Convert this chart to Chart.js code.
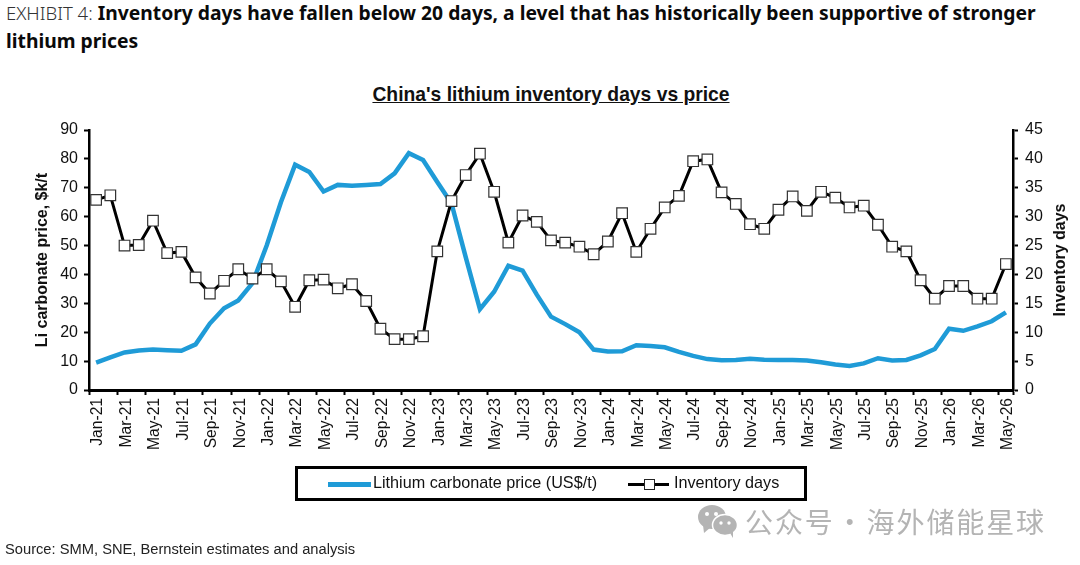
<!DOCTYPE html>
<html>
<head>
<meta charset="utf-8">
<script src="https://cdn.jsdelivr.net/npm/chart.js@4"></script>
<style>
  html, body { margin: 0; padding: 0; background: #fff; }
  body { position: relative; width: 1080px; height: 565px; overflow: hidden; font-family: "Liberation Sans", Arial, sans-serif; color: #111; }
  #chart { position: absolute; left: 0; top: 0; }
  .heading { position: absolute; left: 6px; top: -1px; width: 1060px; font-family: "Noto Sans", sans-serif; font-size: 19.3px; line-height: 28px; font-weight: 700; color: #0a0a0a; }
  .heading span { font-weight: 300; color: #333; font-size: 18.5px; }
  .chart-title { position: absolute; left: 0; width: 1102px; top: 84px; text-align: center; font-size: 19.3px; font-weight: 700; text-decoration: underline; color: #111; }
  #legend { position: absolute; left: 295px; top: 466px; width: 506px; height: 29px; border: 3px solid #000; font-size: 16.2px; box-sizing: content-box; }
  .key { position: absolute; top: 14px; height: 3px; }
  .key i { position: absolute; left: 16px; top: -4px; width: 9px; height: 9px; background: #fff; border: 1px solid #222; }
  .legend-text { position: absolute; top: 4px; white-space: nowrap; }
  .source { position: absolute; left: 5px; top: 541px; font-size: 14.7px; color: #222; }
  .watermark { position: absolute; left: 697px; top: 501px; display: flex; align-items: center; font-family: "Noto Sans CJK SC", sans-serif; font-size: 28px; color: #b4b4b4; white-space: nowrap; letter-spacing: 1.9px; }
</style>
</head>
<body>
<div class="heading"><span>EXHIBIT 4:</span> Inventory days have fallen below 20 days, a level that has historically been supportive of stronger lithium prices</div>
<div class="chart-title">China's lithium inventory days vs price</div>
<canvas id="chart" width="1080" height="565"></canvas>
<div id="legend"></div>
<div class="watermark">
  <svg width="42" height="34" viewBox="0 0 42 34" style="margin-right:6px">
    <ellipse cx="15" cy="13" rx="14" ry="12" fill="#b4b4b4"/>
    <path d="M6 21 L7 29 L14 23 Z" fill="#b4b4b4"/>
    <ellipse cx="28" cy="21" rx="12.5" ry="10.5" fill="#b4b4b4" stroke="#fff" stroke-width="1.5"/>
    <path d="M33 29 L36 34 L36 26 Z" fill="#b4b4b4"/>
    <circle cx="10" cy="10" r="2" fill="#fff"/><circle cx="19" cy="10" r="2" fill="#fff"/>
    <circle cx="24" cy="19" r="1.7" fill="#fff"/><circle cx="32" cy="19" r="1.7" fill="#fff"/>
  </svg>
  公众号<span style="margin:0 1px"> · </span>海外储能星球
</div>
<div class="source">Source: SMM, SNE, Bernstein estimates and analysis</div>

<script>
// Monthly categories, Jan-21 to May-26
const months = [
  'Jan-21','Feb-21','Mar-21','Apr-21','May-21','Jun-21','Jul-21','Aug-21','Sep-21','Oct-21','Nov-21','Dec-21',
  'Jan-22','Feb-22','Mar-22','Apr-22','May-22','Jun-22','Jul-22','Aug-22','Sep-22','Oct-22','Nov-22','Dec-22',
  'Jan-23','Feb-23','Mar-23','Apr-23','May-23','Jun-23','Jul-23','Aug-23','Sep-23','Oct-23','Nov-23','Dec-23',
  'Jan-24','Feb-24','Mar-24','Apr-24','May-24','Jun-24','Jul-24','Aug-24','Sep-24','Oct-24','Nov-24','Dec-24',
  'Jan-25','Feb-25','Mar-25','Apr-25','May-25','Jun-25','Jul-25','Aug-25','Sep-25','Oct-25','Nov-25','Dec-25',
  'Jan-26','Feb-26','Mar-26','Apr-26','May-26'
];

const priceValues = [
  9.5, 11.3, 13, 13.7, 14, 13.8, 13.6, 15.8, 23, 28.3, 31, 37,
  50, 65, 78, 75.5, 68.7, 71, 70.7, 71, 71.3, 75, 82, 79.6,
  72, 64.6, 46, 28, 34, 43, 41.3, 33, 25.4, 22.8, 20, 14,
  13.3, 13.4, 15.5, 15.2, 14.8, 13.2, 11.8, 10.7, 10.3, 10.4, 10.8, 10.5,
  10.4, 10.4, 10.2, 9.6, 8.8, 8.3, 9.2, 11, 10.2, 10.4, 12, 14.2,
  21.2, 20.5, 22, 23.8, 26.9
];

const inventoryValues = [
  32.9, 33.7, 25, 25.1, 29.3, 23.7, 23.9, 19.5, 16.7, 18.9, 20.9, 19.3,
  20.9, 18.8, 14.4, 19, 19.1, 17.6, 18.3, 15.4, 10.6, 8.8, 8.8, 9.3,
  24, 32.7, 37.2, 40.9, 34.3, 25.5, 30.2, 29.1, 25.9, 25.5, 24.8, 23.5,
  25.7, 30.6, 23.9, 27.9, 31.6, 33.6, 39.6, 39.9, 34.2, 32.2, 28.7, 27.9,
  31.2, 33.5, 31, 34.3, 33.3, 31.6, 31.9, 28.6, 24.8, 24, 19, 15.8,
  18, 18, 15.8, 15.8, 21.8
];

const priceLabel = 'Lithium carbonate price (US$/t)';
const inventoryLabel = 'Inventory days';

const BLUE = '#1f9bd7';
const FONT_FAMILY = "'Liberation Sans', Arial, sans-serif";
const AXIS_FONT = { family: FONT_FAMILY, size: 16 };

// Small HTML legend, the original has a heavy box round it
const legend = document.getElementById('legend');
legend.innerHTML =
  '<div class="key" style="left:30px;width:43px;height:5px;top:13px;background:' + BLUE + '"></div>' +
  '<div class="legend-text" style="left:75px">' + priceLabel + '</div>' +
  '<div class="key" style="left:330px;width:41px;background:#000"><i></i></div>' +
  '<div class="legend-text" style="left:376px">' + inventoryLabel + '</div>';

// Chart.js turns a right axis title top-to-bottom, this one reads bottom-to-top
const rightTitle = {
  id: 'rightTitle',
  afterDraw(chart) {
    const scale = chart.scales.y2;
    const c = chart.ctx;
    c.save();
    c.translate(scale.right - 19, (scale.top + scale.bottom) / 2);
    c.rotate(-Math.PI / 2);
    c.font = 'bold 16px ' + FONT_FAMILY;
    c.fillStyle = '#111';
    c.textAlign = 'center';
    c.textBaseline = 'middle';
    c.fillText(inventoryLabel, 0, 0);
    c.restore();
  }
};

const ctx = document.getElementById('chart').getContext('2d');
new Chart(ctx, {
  type: 'line',
  data: {
    labels: months,
    datasets: [
      {
        label: priceLabel,
        data: priceValues,
        yAxisID: 'y',
        borderColor: BLUE,
        borderWidth: 4.5,
        pointRadius: 0,
        tension: 0,
        order: 2
      },
      {
        label: inventoryLabel,
        data: inventoryValues,
        yAxisID: 'y2',
        borderColor: '#000',
        borderWidth: 3,
        pointStyle: 'rect',
        pointRadius: 7.5,
        pointBackgroundColor: '#fff',
        pointBorderColor: '#333',
        pointBorderWidth: 1.2,
        tension: 0,
        order: 1
      }
    ]
  },
  plugins: [rightTitle],
  options: {
    responsive: false,
    animation: false,
    layout: { padding: { top: 130, bottom: 115, left: 0, right: 0 } },
    plugins: { legend: { display: false }, tooltip: { enabled: false } },
    scales: {
      x: {
        offset: true,
        afterFit: scale => { scale.height = 60; },
        border: { color: '#000', width: 3 },
        grid: {
          offset: true,
          drawOnChartArea: false,
          tickLength: 5,
          tickWidth: 2,
          tickColor: c => (c.index % 2 ? 'transparent' : '#000')
        },
        ticks: {
          autoSkip: false,
          maxRotation: 90,
          minRotation: 90,
          labelOffset: 2,
          color: '#111',
          padding: 3,
          font: { family: FONT_FAMILY, size: 15.6 },
          callback: function (value, index) {
            return index % 2 ? '' : this.getLabelForValue(value);
          }
        }
      },
      y: {
        position: 'left',
        min: 0,
        max: 90,
        afterFit: scale => { scale.width = 89; },
        border: { color: '#000', width: 2.5 },
        grid: { drawOnChartArea: false, tickLength: 5, tickWidth: 2, tickColor: '#000' },
        ticks: { stepSize: 10, color: '#111', padding: 6, font: AXIS_FONT },
        title: {
          display: true,
          text: 'Li carbonate price, $k/t',
          color: '#111',
          padding: { top: 33, bottom: 0 },
          font: { family: FONT_FAMILY, size: 16, weight: 'bold' }
        }
      },
      y2: {
        position: 'right',
        min: 0,
        max: 45,
        afterFit: scale => { scale.width = 67; },
        border: { color: '#000', width: 2.5 },
        grid: { drawOnChartArea: false, tickLength: 5, tickWidth: 2, tickColor: '#000' },
        ticks: { stepSize: 5, color: '#111', padding: 7, font: AXIS_FONT }
      }
    }
  }
});
</script>
</body>
</html>
